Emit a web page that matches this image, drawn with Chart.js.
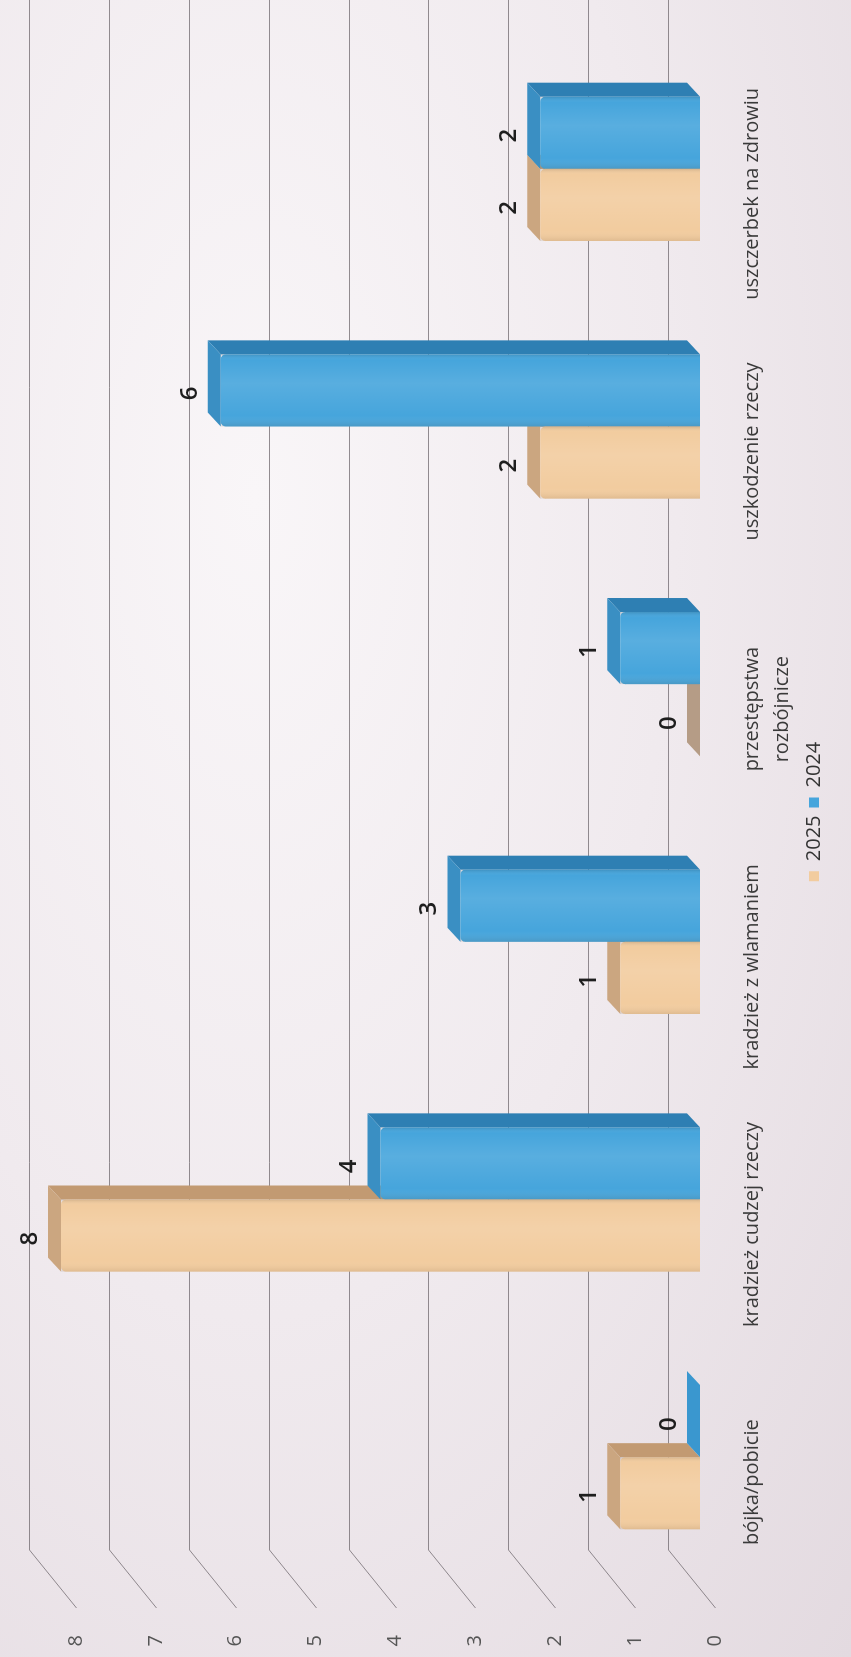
<!DOCTYPE html>
<html>
<head>
<meta charset="utf-8">
<script src="https://cdn.jsdelivr.net/npm/chart.js@4.4.1/dist/chart.umd.min.js"></script>
<style>
    html, body { margin: 0; padding: 0; }
    body {
        width: 851px; height: 1657px; overflow: hidden; position: relative;
        background: radial-gradient(ellipse at 30% 30%, #f9f6f8 0%, #f0eaee 50%, #e3dae0 100%);
    }
    /* chart is drawn landscape, then turned a quarter to the left like the printed page */
    #chart { position: absolute; left: 0; top: 0; transform-origin: 0 0; transform: translateY(1657px) rotate(-90deg); }
</style>
</head>
<body>
<canvas id="chart" width="1657" height="851"></canvas>
<script>
const categories = ['bójka/pobicie', 'kradzież cudzej rzeczy', 'kradzież z wlamaniem', ['przestępstwa', 'rozbójnicze'], 'uszkodzenie rzeczy', 'uszczerbek na zdrowiu'];
const values2025 = [1, 8, 1, 0, 2, 2];
const values2024 = [0, 4, 3, 1, 6, 2];
const seriesNames = ['2025', '2024'];
const valueTicks = [0, 1, 2, 3, 4, 5, 6, 7, 8];

const DX = 14, DY = -13; // fake 3d depth of the bars
const faces = [
    { front: '#f2cc9f', cap: '#cba680', side: '#c29a72', floor: '#b59c86' },
    { front: '#46a5dc', cap: '#3a8fc3', side: '#2e7fb3', floor: '#3a97cf' }
];

function poly(ctx, pts) {
    ctx.beginPath();
    ctx.moveTo(pts[0][0], pts[0][1]);
    pts.slice(1).forEach(p => ctx.lineTo(p[0], p[1]));
    ctx.closePath();
    ctx.fill();
}

function barBoxes(chart, di) {
    return chart.getDatasetMeta(di).data.map(bar => bar.getProps(['x', 'y', 'base', 'width'], true));
}

const depthPlugin = {
    id: 'depth',
    afterLayout(chart) {
        // legend sits right of centre and higher than chart.js puts it
        let lg = chart.legend;
        lg.left += 37; lg.right += 37;
        lg.top -= 17; lg.bottom -= 17;
    },
    beforeDatasetsDraw(chart) {
        const { ctx, chartArea, scales: { y } } = chart;
        ctx.save();
        // back wall grid + floor edge
        ctx.strokeStyle = 'rgba(105,98,104,0.72)';
        ctx.lineWidth = 1;
        y.ticks.forEach(t => {
            const yb = Math.round(y.getPixelForValue(t.value) - 32) + 0.5;
            const xw = chartArea.left + 36;
            ctx.beginPath();
            ctx.moveTo(chart.width, yb);
            ctx.lineTo(xw, yb);
            ctx.lineTo(chartArea.left - 22, yb + 47);
            ctx.stroke();
        });
        chart.data.datasets.forEach((ds, di) => {
            barBoxes(chart, di).forEach(b => {
                const r = b.x + b.width / 2;
                ctx.fillStyle = faces[di].side;
                poly(ctx, [[r, b.y], [r + DX, b.y + DY], [r + DX, b.base + DY], [r, b.base]]);
            });
        });
        chart.data.datasets.forEach((ds, di) => {
            barBoxes(chart, di).forEach(b => {
                const l = b.x - b.width / 2, r = b.x + b.width / 2;
                ctx.fillStyle = b.base - b.y > 2 ? faces[di].cap : faces[di].floor;
                poly(ctx, [[l, b.y], [l + DX, b.y + DY], [r + DX, b.y + DY], [r, b.y]]);
            });
        });
        ctx.restore();
    },
    afterDatasetsDraw(chart) {
        const { ctx } = chart;
        ctx.save();
        chart.data.datasets.forEach((ds, di) => {
            barBoxes(chart, di).forEach((b, i) => {
                const l = b.x - b.width / 2, r = b.x + b.width / 2;
                if (b.base - b.y > 2) {
                    let g = ctx.createLinearGradient(l, 0, r, 0);
                    g.addColorStop(0, 'rgba(90,60,30,0.12)');
                    g.addColorStop(0.15, 'rgba(255,255,255,0.0)');
                    g.addColorStop(0.6, 'rgba(255,255,255,0.10)');
                    g.addColorStop(0.92, 'rgba(255,255,255,0.0)');
                    g.addColorStop(1, 'rgba(0,0,0,0.12)');
                    ctx.fillStyle = g;
                    ctx.fillRect(l, b.y, b.width, b.base - b.y);
                }
                ctx.fillStyle = '#1e1e1e';
                ctx.font = '600 24px "Open Sans", sans-serif';
                ctx.textAlign = 'center';
                ctx.textBaseline = 'middle';
                ctx.fillText(String(ds.data[i]), b.x - 3, b.y - 31);
            });
        });
        ctx.restore();
    }
};

Chart.defaults.font.family = '"Open Sans", sans-serif';

new Chart('chart', {
    type: 'bar',
    data: {
        labels: categories,
        datasets: [
            { label: seriesNames[0], data: values2025, backgroundColor: faces[0].front, borderRadius: 5 },
            { label: seriesNames[1], data: values2024, backgroundColor: faces[1].front, borderRadius: 5 }
        ]
    },
    options: {
        responsive: false,
        animation: false,
        devicePixelRatio: 1,
        categoryPercentage: 0.56,
        barPercentage: 1.0,
        layout: { padding: { left: 0, top: 57, right: 40, bottom: 0 } },
        scales: {
            x: {
                grid: { display: false, drawTicks: false },
                border: { display: false },
                ticks: {
                    color: '#3a3a3a', font: { size: 20, lineHeight: 1.5 },
                    padding: 37, labelOffset: -25, maxRotation: 0, autoSkip: false
                },
                afterFit: s => { s.height = 113; }
            },
            y: {
                min: valueTicks[0],
                max: valueTicks[valueTicks.length - 1],
                grid: { display: false, drawTicks: false },
                border: { display: false },
                ticks: { stepSize: 1, color: '#555', font: { size: 20 }, padding: 49, labelOffset: 15 },
                afterFit: s => { s.width = 71; }
            }
        },
        plugins: {
            legend: {
                position: 'bottom',
                labels: { boxWidth: 10, boxHeight: 10, color: '#333', font: { size: 20 }, padding: 8 }
            },
            tooltip: { enabled: false }
        }
    },
    plugins: [depthPlugin]
});
</script>
</body>
</html>
